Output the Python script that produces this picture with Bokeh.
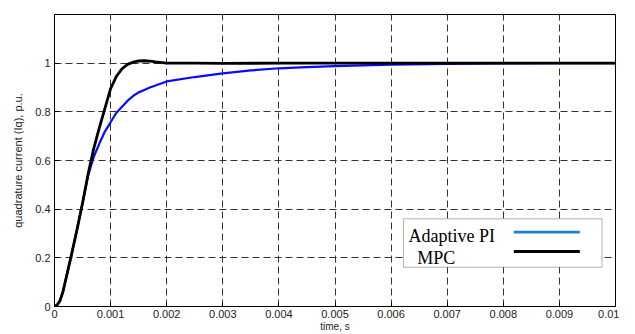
from bokeh.plotting import figure
from bokeh.models import Range1d, FixedTicker, BoxAnnotation, Label
from bokeh.embed import file_html
from bokeh.resources import INLINE

# ---- data ----
t_mpc = [0, 0.00005, 0.0001, 0.00015, 0.0002, 0.00025, 0.0003, 0.0004, 0.0005,
         0.0006, 0.0007, 0.0008, 0.0009, 0.001, 0.0011, 0.0012, 0.0013, 0.0014,
         0.0015, 0.0016, 0.0017, 0.0018, 0.002, 0.0025, 0.003, 0.004, 0.005,
         0.006, 0.007, 0.008, 0.009, 0.01]
iq_mpc = [0, 0.007, 0.025, 0.06, 0.11, 0.16, 0.21, 0.315, 0.425,
          0.545, 0.65, 0.735, 0.815, 0.895, 0.945, 0.976, 0.995, 1.004,
          1.009, 1.01, 1.008, 1.005, 1.0, 1.0, 0.999, 1.0, 1.0,
          1.0, 1.0, 1.0, 1.0, 1.0]

t_pi = [0, 0.00005, 0.0001, 0.00015, 0.0002, 0.00025, 0.0003, 0.0004, 0.0005,
        0.0006, 0.0007, 0.0008, 0.0009, 0.001, 0.0011, 0.0012, 0.0013, 0.0014,
        0.0015, 0.0016, 0.0017, 0.0018, 0.002, 0.0025, 0.003, 0.0035, 0.004,
        0.0045, 0.005, 0.0055, 0.006, 0.007, 0.008, 0.009, 0.01]
iq_pi = [0, 0.007, 0.025, 0.06, 0.11, 0.16, 0.21, 0.315, 0.425,
         0.54, 0.615, 0.67, 0.72, 0.757, 0.795, 0.82, 0.845, 0.865,
         0.88, 0.89, 0.9, 0.908, 0.925, 0.943, 0.958, 0.97, 0.979,
         0.984, 0.988, 0.991, 0.994, 0.997, 0.999, 1.0, 1.0]

x_ticks = [0, 0.001, 0.002, 0.003, 0.004, 0.005, 0.006, 0.007, 0.008, 0.009, 0.01]
x_tick_labels = ["0", "0.001", "0.002", "0.003", "0.004", "0.005", "0.006",
                 "0.007", "0.008", "0.009", "0.01"]
y_ticks = [0, 0.2, 0.4, 0.6, 0.8, 1.0]
y_tick_labels = ["0", "0.2", "0.4", "0.6", "0.8", "1"]

series_names = ["Adaptive PI", "MPC"]

# ---- figure ----
p = figure(width=619, height=334, output_backend="svg", toolbar_location=None,
           x_range=Range1d(0, 0.01), y_range=Range1d(0, 1.2),
           min_border_left=54, min_border_right=4, min_border_top=14,
           min_border_bottom=28)
p.background_fill_color = "white"
p.border_fill_color = "white"
p.outline_line_color = "black"
p.outline_line_width = 1

for ax, ticks, labels in ((p.xaxis[0], x_ticks, x_tick_labels),
                          (p.yaxis[0], y_ticks, y_tick_labels)):
    ax.ticker = FixedTicker(ticks=ticks)
    ax.major_label_overrides = {t: l for t, l in zip(ticks, labels)}
    ax.major_tick_in = 4
    ax.major_tick_out = 0
    ax.minor_tick_line_color = None
    ax.axis_line_color = "black"
    ax.major_tick_line_color = "black"
    ax.major_label_text_font = "Liberation Sans"
    ax.major_label_text_font_size = "11px"
    ax.major_label_text_color = "#222222"
    ax.axis_label_text_font = "Liberation Sans"
    ax.axis_label_text_font_style = "normal"
    ax.axis_label_text_color = "#222222"

p.xaxis.axis_label = "time, s"
p.xaxis.axis_label_text_font_size = "10px"
p.xaxis.axis_label_standoff = 0
p.xaxis.major_label_standoff = 3
p.yaxis.axis_label = "quadrature current (Iq), p.u."
p.yaxis.axis_label_text_font_size = "11px"
p.yaxis.axis_label_standoff = 8
p.yaxis.major_label_standoff = 4

p.xgrid.ticker = FixedTicker(ticks=x_ticks)
p.ygrid.ticker = FixedTicker(ticks=y_ticks)
for g in (p.xgrid[0], p.ygrid[0]):
    g.grid_line_color = "#333333"
    g.grid_line_dash = "7 4"
    g.grid_line_width = 1

p.line(t_pi, iq_pi, line_color="#0a0aff", line_width=2.2)
p.line(t_mpc, iq_mpc, line_color="black", line_width=2.8)

# ---- legend (manual, glyph on the right like the reference) ----
p.add_layout(BoxAnnotation(left=0.00622, right=0.00976, bottom=0.1615, top=0.3604,
                           fill_color="white", fill_alpha=1.0,
                           line_color="black", line_width=1, level="overlay"))
p.add_layout(Label(x=0.00631, y=0.2877, text=series_names[0],
                   text_font="Liberation Serif", text_font_size="18px",
                   text_color="black", text_baseline="alphabetic", level="overlay"))
p.add_layout(Label(x=0.006465, y=0.1973, text=series_names[1],
                   text_font="Liberation Serif", text_font_size="18px",
                   text_color="black", text_baseline="alphabetic", level="overlay"))
p.add_layout(BoxAnnotation(left=0.008187, right=0.009364, bottom=0.2995, top=0.3115,
                           fill_color="#2080d0", fill_alpha=1.0, line_alpha=0,
                           level="overlay"))
p.add_layout(BoxAnnotation(left=0.008187, right=0.009364, bottom=0.2200, top=0.2322,
                           fill_color="black", fill_alpha=1.0, line_alpha=0,
                           level="overlay"))

open("out.html", "w").write(file_html(p, INLINE))
